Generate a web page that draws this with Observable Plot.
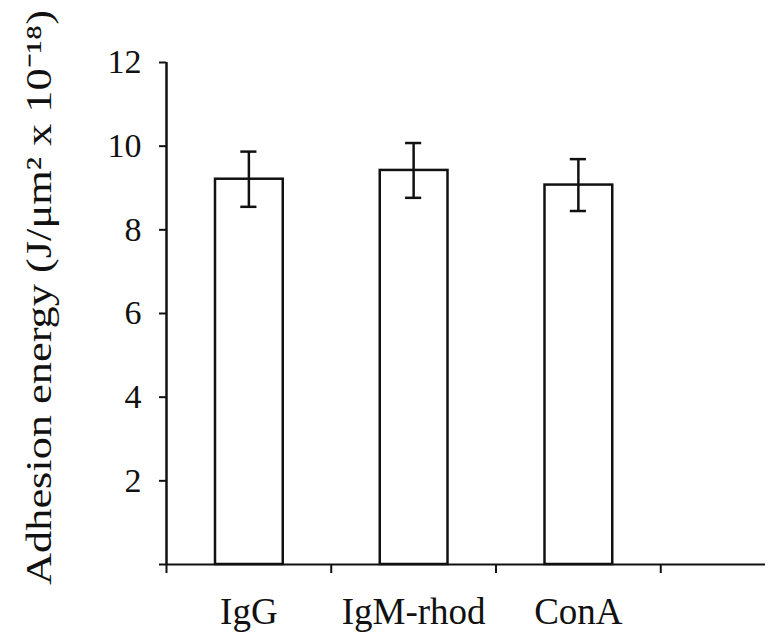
<!DOCTYPE html>
<html>
<head>
<meta charset="utf-8">
<script src="https://cdn.jsdelivr.net/npm/d3@7"></script>
<script src="https://cdn.jsdelivr.net/npm/@observablehq/plot@0.6"></script>
<style>
  html, body { margin: 0; padding: 0; background: white; overflow: hidden; }
</style>
</head>
<body>
<div id="chart"></div>
<script>
// Data
const categories = ["IgG", "IgM-rhod", "ConA"];
const means = [9.21, 9.42, 9.07];
const errors = [0.66, 0.655, 0.62];
const slotCount = 4; // axis has four category slots, the last one empty
const yTicks = [0, 2, 4, 6, 8, 10, 12];
const yLabel = "Adhesion energy (J/μm² x 10⁻¹⁸)";

const capHalf = 0.049;
const data = categories.map((c, i) => ({
  name: c, x1: i, x2: i + 1, xc: i + 0.5,
  mean: means[i], lo: means[i] - errors[i], hi: means[i] + errors[i],
  c1: i + 0.5 - capHalf, c2: i + 0.5 + capHalf
}));

const ink = "#111";
const chart = Plot.plot({
  width: 775,
  height: 635,
  marginLeft: 166,
  marginTop: 62,
  marginBottom: 71,
  marginRight: 10,
  x: {type: "linear", domain: [0, slotCount], range: [166, 825]},
  y: {domain: [0, 12], range: [564, 62]},
  style: {fontFamily: "'Liberation Serif', 'Times New Roman', serif", color: ink, background: "white", overflow: "hidden"},
  marks: [
    Plot.rectY(data, {x1: "x1", x2: "x2", y: "mean", insetLeft: 49, insetRight: 48,
      fill: "white", stroke: ink, strokeWidth: 2.5}),
    Plot.ruleX(data, {x: "xc", y1: "lo", y2: "hi", stroke: ink, strokeWidth: 2.5}),
    Plot.ruleY(data, {x1: "c1", x2: "c2", y: "hi", stroke: ink, strokeWidth: 2.5}),
    Plot.ruleY(data, {x1: "c1", x2: "c2", y: "lo", stroke: ink, strokeWidth: 2.5}),
    Plot.ruleY([0], {stroke: ink, strokeWidth: 2}),
    Plot.ruleX([0], {y1: 0, y2: 12, stroke: ink, strokeWidth: 2.5}),
    Plot.axisY({ticks: yTicks, tickFormat: d => d === 0 ? "" : d, tickSize: 7, tickPadding: 18,
      fontSize: 34, strokeWidth: 2, label: yLabel, labelAnchor: "center", labelOffset: 141, labelArrow: "none"}),
    Plot.axisX({ticks: d3.range(slotCount), tickFormat: () => "", tickSize: 9, strokeWidth: 2, label: null}),
    Plot.axisX({ticks: data.map(d => d.xc), tickFormat: d => categories[Math.floor(d)], tickSize: 0,
      tickPadding: 33, fontSize: 37, label: null})
  ]
});
document.getElementById("chart").appendChild(chart);

// Stretch the y-axis title along its length to match the reference proportions
const lab = d3.select(chart).selectAll('g[aria-label="y-axis label"] text');
lab.text(yLabel)
  .attr("font-size", 36)
  .attr("dx", 16)
  .attr("textLength", 575)
  .attr("lengthAdjust", "spacingAndGlyphs");
</script>
</body>
</html>
